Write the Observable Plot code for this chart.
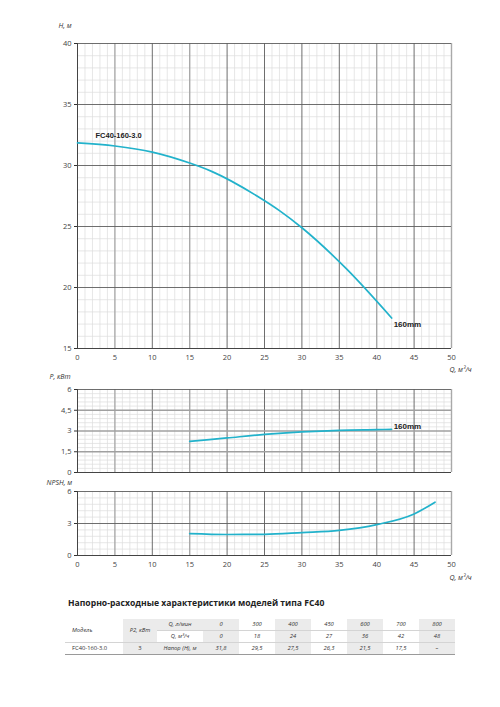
<!DOCTYPE html>
<html>
<head>
<meta charset="utf-8">
<script src="https://cdn.jsdelivr.net/npm/d3@7"></script>
<script src="https://cdn.jsdelivr.net/npm/@observablehq/plot@0.6"></script>
<style>
  body { margin: 0; background: #fff; }
  #page { position: relative; width: 500px; height: 707px; overflow: hidden; font-family: "Open Sans", sans-serif; }
  .panel { position: absolute; left: 0; }
  #title { position: absolute; left: 68px; top: 597px; font-size: 8.6px; font-weight: bold; color: #222; white-space: nowrap; }
  table { position: absolute; left: 65px; top: 619px; width: 390px; border-collapse: collapse; table-layout: fixed;
          font-family: "Open Sans", sans-serif; font-size: 5.8px; color: #333; }
  td { height: 11px; padding: 0; text-align: center; font-style: italic; border-bottom: 1px solid #d4d4d4; line-height: 11px; }
  tr:first-child td { border-top: 1px solid #7a7a7a; }
  tr:last-child td { border-bottom: 1px solid #9a9a9a; }
  td.shade { background: #ebebeb; }
  td.left { text-align: left; padding-left: 7px; }
  td.plain { font-style: normal; }
</style>
</head>
<body>
<div id="page"></div>
<script>
// Pump curve FC40-160-3.0, impeller 160 mm
const flowH = [0, 5, 10, 15, 18, 24, 27, 30, 36, 42];
const head  = [31.85, 31.6, 31.1, 30.2, 29.5, 27.5, 26.3, 24.9, 21.5, 17.5];

const flowP = [15, 20, 25, 30, 35, 40, 42];
const power = [2.25, 2.5, 2.75, 2.93, 3.05, 3.1, 3.12];

const flowN = [15, 20, 25, 30, 35, 40, 45, 47.8];
const npsh  = [2.05, 1.97, 1.98, 2.15, 2.36, 2.9, 3.9, 5.0];

const qTicks = [0, 5, 10, 15, 20, 25, 30, 35, 40, 45, 50];
const hTicks = [15, 20, 25, 30, 35, 40];
const pTicks = [0, 1.5, 3, 4.5, 6];
const nTicks = [0, 3, 6];
const pTickLabels = ["0", "1,5", "3", "4,5", "6"];

const modelName = "FC40-160-3.0";
const curveName = "160mm";

// Table: flow in l/min and m³/h, head at each flow
const tableFlowLmin = ["0", "300", "400", "450", "600", "700", "800"];
const tableFlowM3h  = ["0", "18", "24", "27", "36", "42", "48"];
const tableHead     = ["31,8", "29,5", "27,5", "26,3", "21,5", "17,5", "–"];
const tableP2 = "3";
const tableTitle = "Напорно-расходные характеристики моделей типа FC40";

const curveColor = "#22b2cb";
const page = document.getElementById("page");

// major verticals drawn in a softer, wider grey
const softX = [5, 15, 40, 50];

function panel(o) {
  const xMinor = d3.range(0, 51, 1).filter(v => v % 5 !== 0);
  const yMinor = d3.range(o.yDomain[0], o.yDomain[1] + 1e-9, o.yMinorStep)
    .map(v => +v.toFixed(4))
    .filter(v => !o.yTicks.some(m => Math.abs(m - v) < 1e-6));
  const yMajor = o.yTicks.filter(v => v !== o.yDomain[0]);
  const ySoft = yMajor.filter(v => o.ySoft(v));
  const yHard = yMajor.filter(v => !o.ySoft(v));
  const data = o.xs.map((x, i) => ({x, y: o.ys[i]}));
  const marks = [
    Plot.ruleX(xMinor, {stroke: "#dcdcdc", strokeWidth: 0.7}),
    Plot.ruleY(yMinor, {stroke: "#dcdcdc", strokeWidth: 0.7}),
    Plot.ruleX(qTicks.filter(v => v > 0 && !softX.includes(v)), {stroke: "#5e5e5e", strokeWidth: 0.9}),
    Plot.ruleX(softX, {stroke: "#a9a9a9", strokeWidth: 1.4}),
    Plot.ruleY(yHard, {stroke: "#5e5e5e", strokeWidth: 0.9}),
    Plot.ruleY(ySoft, {stroke: "#a0a0a0", strokeWidth: 1.4}),
    Plot.ruleX([0], {stroke: "#444", strokeWidth: 1}),
    Plot.ruleY([o.yDomain[0]], {stroke: "#444", strokeWidth: 1}),
    Plot.axisY({ticks: o.yTicks, tickSize: 3, tickPadding: 3, label: null,
      tickFormat: o.yFormat || (d => String(d)), fill: "#444", stroke: "#333"}),
    o.showX
      ? Plot.axisX({ticks: qTicks, tickSize: 0, tickPadding: 6, label: null, fill: "#444"})
      : Plot.axisX({ticks: [], label: null}),
    Plot.line(data, {x: "x", y: "y", stroke: curveColor, strokeWidth: 1.7, curve: "monotone-x"}),
    Plot.text([o.yLabel], {frameAnchor: "top-left", lineAnchor: "middle", dx: o.yLabelDx, dy: o.yLabelDy,
      textAnchor: "start", fontStyle: "italic", fill: "#333", fontSize: 7})
  ];
  if (o.showX) {
    marks.push(Plot.text(["Q, м³/ч"], {frameAnchor: "bottom-right", lineAnchor: "middle", dx: -2, dy: o.qLabelDy,
      textAnchor: "start", fontStyle: "italic", fill: "#333", fontSize: 7}));
  }
  (o.notes || []).forEach(n => {
    const p = data[n.at];
    marks.push(Plot.text([p], {x: "x", y: "y", text: () => n.text, dx: n.dx, dy: n.dy, textAnchor: "start",
      lineAnchor: "middle", fontWeight: "bold", fontSize: n.size, fill: "#222",
      fontFamily: n.family || "Liberation Sans, Arial, sans-serif"}));
  });
  const svg = Plot.plot({
    width: 500,
    height: o.height,
    marginTop: o.marginTop,
    marginBottom: o.marginBottom,
    marginLeft: 77,
    marginRight: 49,
    x: {domain: [0, 50]},
    y: {domain: o.yDomain},
    style: {fontFamily: "Open Sans, sans-serif", fontSize: "7.5px", background: "transparent", overflow: "visible"},
    marks
  });
  svg.classList.add("panel");
  svg.style.top = o.top + "px";
  svg.style.left = "0px";
  svg.style.position = "absolute";
  page.appendChild(svg);
}

// Head H(Q)
panel({
  top: 0, height: 380, marginTop: 43, marginBottom: 32,
  yDomain: [15, 40], yTicks: hTicks, yMinorStep: 1, ySoft: () => false,
  xs: flowH, ys: head, showX: true, qLabelDy: 21,
  yLabel: "H, м", yLabelDx: -19, yLabelDy: -18,
  notes: [
    {at: 0, text: modelName, dx: 18, dy: -7, size: 7.5, family: "Liberation Sans Narrow, Liberation Sans, sans-serif"},
    {at: flowH.length - 1, text: curveName, dx: 2, dy: 6, size: 8}
  ]
});

// Shaft power P(Q)
panel({
  top: 370, height: 110, marginTop: 19, marginBottom: 8,
  yDomain: [0, 6], yTicks: pTicks, yMinorStep: 0.3, ySoft: v => v < 6,
  yFormat: d => pTickLabels[pTicks.indexOf(d)],
  xs: flowP, ys: power, showX: false,
  yLabel: "P, кВт", yLabelDx: -28, yLabelDy: -13,
  notes: [{at: flowP.length - 1, text: curveName, dx: 2, dy: -3, size: 8}]
});

// NPSH(Q)
panel({
  top: 480, height: 110, marginTop: 11, marginBottom: 35,
  yDomain: [0, 6], yTicks: nTicks, yMinorStep: 0.6, ySoft: () => false,
  xs: flowN, ys: npsh, showX: true, qLabelDy: 22,
  yLabel: "NPSH, м", yLabelDx: -31, yLabelDy: -9
});

// Table of head vs flow
const title = document.createElement("div");
title.id = "title";
title.textContent = tableTitle;
page.appendChild(title);

const table = document.createElement("table");
const colgroup = document.createElement("colgroup");
[58, 34, 46, 36, 36, 36, 36, 36, 36, 36].forEach(w => {
  const c = document.createElement("col");
  c.style.width = w + "px";
  colgroup.appendChild(c);
});
table.appendChild(colgroup);

function cell(tr, text, cls, rowSpan) {
  const td = document.createElement("td");
  td.textContent = text;
  if (cls) td.className = cls;
  if (rowSpan) td.rowSpan = rowSpan;
  tr.appendChild(td);
  return td;
}
const shadeCol = i => i % 2 === 0;

const r1 = document.createElement("tr");
cell(r1, "Модель", "left", 2);
cell(r1, "P2, кВт", "shade", 2);
cell(r1, "Q, л/мин", "shade");
tableFlowLmin.forEach((v, i) => cell(r1, v, shadeCol(i) ? "shade" : ""));
table.appendChild(r1);

const r2 = document.createElement("tr");
cell(r2, "Q, м³/ч", "");
tableFlowM3h.forEach((v, i) => cell(r2, v, shadeCol(i) ? "shade" : ""));
table.appendChild(r2);

const r3 = document.createElement("tr");
cell(r3, modelName, "left plain");
cell(r3, tableP2, "shade plain");
cell(r3, "Напор (H), м", "shade");
tableHead.forEach((v, i) => cell(r3, v, shadeCol(i) ? "shade" : ""));
table.appendChild(r3);

page.appendChild(table);
</script>
</body>
</html>
